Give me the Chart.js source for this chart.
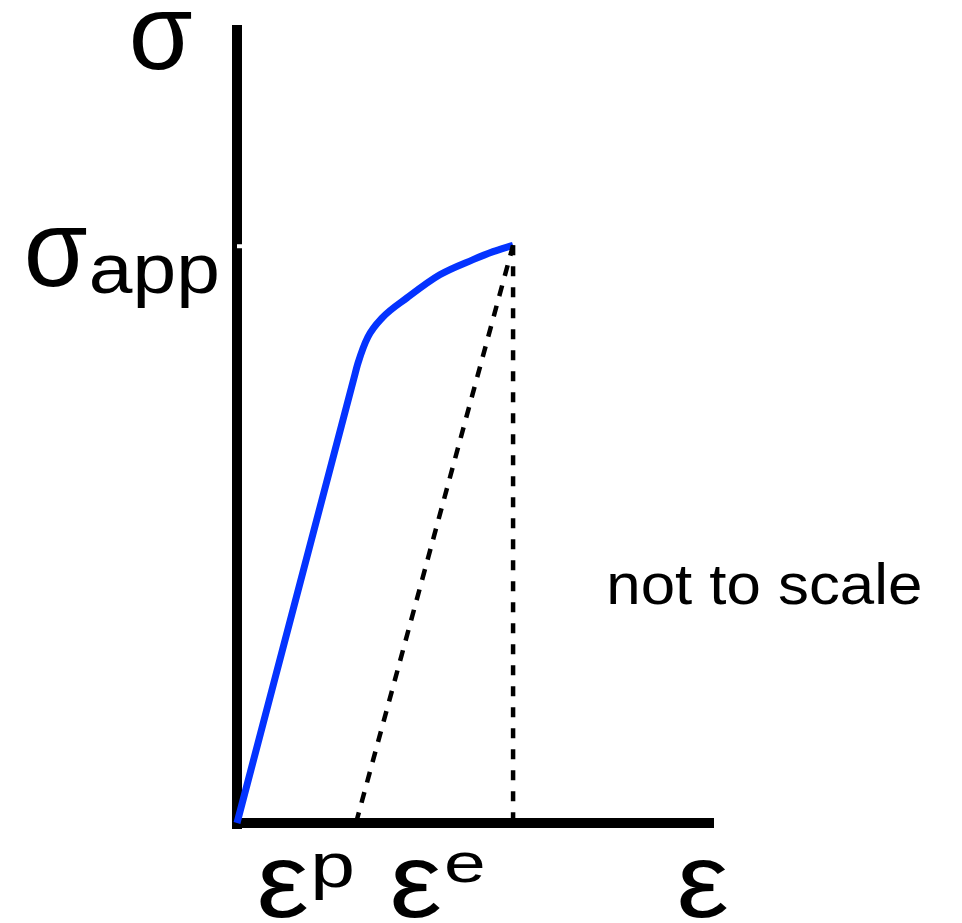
<!DOCTYPE html>
<html>
<head>
<meta charset="utf-8">
<script src="https://cdn.jsdelivr.net/npm/chart.js@4"></script>
<style>
  html, body { margin: 0; padding: 0; background: #fff; }
  canvas { display: block; }
</style>
</head>
<body>
<canvas id="curve" width="962" height="923"></canvas>
<script>
// loading curve, strain vs stress (arbitrary units, not to scale)
const strain = [0, 24.6, 25.4, 27.5, 30.5, 35.7, 42.6, 49.6, 53.8, 58];
const stress = [0, 55.8, 57.6, 60.9, 63.3, 65.8, 68.7, 70.6, 71.6, 72.4];

const sigmaApp = 72.4;   // applied stress at the end of loading
const epsPlastic = 25;   // where the unloading line meets the strain axis
const epsTotal = 58;     // total strain at sigma_app

const strainRange = [0, 100];
const stressRange = [0, 100];

const FONT = '"Liberation Sans", Arial, Helvetica, sans-serif';

// draw a string so its ink fills the given box exactly
function boxText(ctx, str, x0, y0, x1, y1) {
  ctx.font = '100px ' + FONT;
  const m = ctx.measureText(str);
  const w = m.actualBoundingBoxLeft + m.actualBoundingBoxRight;
  const h = m.actualBoundingBoxAscent + m.actualBoundingBoxDescent;
  ctx.save();
  ctx.translate(x0, y0);
  ctx.scale((x1 - x0) / w, (y1 - y0) / h);
  ctx.fillText(str, m.actualBoundingBoxLeft, m.actualBoundingBoxAscent);
  ctx.restore();
}

const axesPlugin = {
  id: 'axes',
  beforeDatasetsDraw(chart) {
    const { ctx, chartArea: ca, scales } = chart;
    const x0 = scales.x.getPixelForValue(0);
    const y0 = scales.y.getPixelForValue(0);
    ctx.save();
    ctx.strokeStyle = '#000';
    ctx.lineWidth = 10;
    ctx.lineCap = 'butt';
    ctx.beginPath();
    ctx.moveTo(x0, ca.top);
    ctx.lineTo(x0, y0 + 6);
    ctx.moveTo(x0 - 5, y0);
    ctx.lineTo(ca.right + 1, y0);
    ctx.stroke();
    // small notch marking sigma_app on the stress axis
    const ys = scales.y.getPixelForValue(sigmaApp);
    ctx.fillStyle = '#fff';
    ctx.fillRect(x0, ys - 1, 5, 4);
    ctx.restore();
  }
};

const labelPlugin = {
  id: 'labels',
  afterDraw(chart) {
    const { ctx, chartArea: ca, scales } = chart;
    const ys = scales.y.getPixelForValue(sigmaApp);
    const b = ca.bottom;
    ctx.save();
    ctx.fillStyle = '#000';
    // stress axis
    boxText(ctx, 'σ', 133, 12, 192, 70);
    boxText(ctx, 'σ', 28, ys - 17, 87, ys + 42);
    boxText(ctx, 'app', 92, ys + 10, 217, ys + 63);
    // strain axis
    boxText(ctx, 'ε', 260, b + 37, 307, b + 95);
    boxText(ctx, 'p', 315, b + 30, 352, b + 77);
    boxText(ctx, 'ε', 393, b + 37, 440, b + 95);
    boxText(ctx, 'e', 447, b + 30, 483, b + 60);
    boxText(ctx, 'ε', 680, b + 37, 727, b + 95);
    boxText(ctx, 'not to scale', 610, 562, 920, 605);
    ctx.restore();
  }
};

new Chart(document.getElementById('curve'), {
  type: 'line',
  data: {
    datasets: [
      {
        // elastic unloading
        data: [{ x: epsPlastic, y: 0 }, { x: epsTotal, y: sigmaApp }],
        borderColor: '#000',
        borderWidth: 4.5,
        borderDash: [11, 10],
        pointRadius: 0,
        clip: false
      },
      {
        data: [{ x: epsTotal, y: sigmaApp }, { x: epsTotal, y: 0 }],
        borderColor: '#000',
        borderWidth: 4.5,
        borderDash: [10, 11],
        pointRadius: 0,
        clip: false
      },
      {
        data: strain.map((e, i) => ({ x: e, y: stress[i] })),
        borderColor: '#0433ff',
        borderWidth: 7,
        cubicInterpolationMode: 'monotone',
        pointRadius: 0,
        clip: false
      }
    ]
  },
  options: {
    responsive: false,
    animation: false,
    events: [],
    layout: { padding: { left: 237, right: 249, top: 25, bottom: 100 } },
    plugins: {
      legend: { display: false },
      tooltip: { enabled: false }
    },
    scales: {
      x: { type: 'linear', display: false, min: strainRange[0], max: strainRange[1] },
      y: { type: 'linear', display: false, min: stressRange[0], max: stressRange[1] }
    }
  },
  plugins: [axesPlugin, labelPlugin]
});
</script>
</body>
</html>
